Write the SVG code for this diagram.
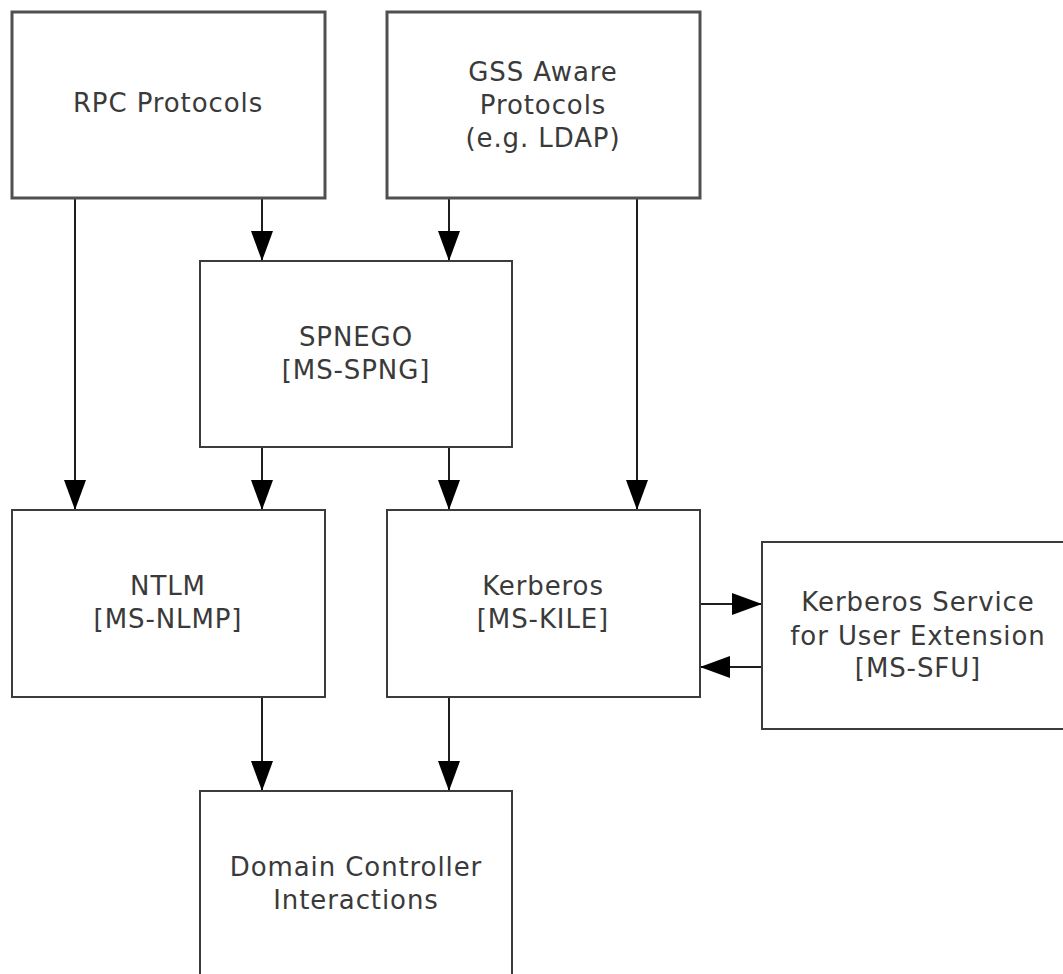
<svg xmlns="http://www.w3.org/2000/svg" width="1063" height="974" viewBox="0 0 1063 974">
<style>
.box{fill:#fff;stroke:#3c3c3c;stroke-width:2}
.top{stroke:#505050;stroke-width:3}
.lbl{font-family:"DejaVu Sans","Verdana",sans-serif;font-size:26px;fill:#3a3a3a;text-anchor:middle;letter-spacing:0.9px}
.conn{stroke:#1e1e1e;stroke-width:2;fill:none}
</style>
<defs>
<marker id="ah" markerUnits="userSpaceOnUse" markerWidth="32" markerHeight="24" refX="30" refY="11" orient="auto">
<path d="M0,0 L30,11 L0,22 z" fill="#000"/>
</marker>
</defs>
<g id="connectors">
<line class="conn" x1="75" y1="198" x2="75" y2="510" marker-end="url(#ah)"/>
<line class="conn" x1="262" y1="198" x2="262" y2="261" marker-end="url(#ah)"/>
<line class="conn" x1="449" y1="198" x2="449" y2="261" marker-end="url(#ah)"/>
<line class="conn" x1="637" y1="198" x2="637" y2="510" marker-end="url(#ah)"/>
<line class="conn" x1="262" y1="447" x2="262" y2="510" marker-end="url(#ah)"/>
<line class="conn" x1="449" y1="447" x2="449" y2="510" marker-end="url(#ah)"/>
<line class="conn" x1="262" y1="697" x2="262" y2="791" marker-end="url(#ah)"/>
<line class="conn" x1="449" y1="697" x2="449" y2="791" marker-end="url(#ah)"/>
<line class="conn" x1="700" y1="604" x2="762" y2="604" marker-end="url(#ah)"/>
<line class="conn" x1="762" y1="667" x2="700" y2="667" marker-end="url(#ah)"/>
</g>
<g id="rpc">
<rect class="box top" x="12" y="12" width="313" height="186"/>
<text class="lbl" x="168" y="112">RPC Protocols</text>
</g>
<g id="gss">
<rect class="box top" x="387" y="12" width="313" height="186"/>
<text class="lbl" x="543" y="81">GSS Aware</text>
<text class="lbl" x="543" y="114">Protocols</text>
<text class="lbl" x="543" y="147">(e.g. LDAP)</text>
</g>
<g id="spnego">
<rect class="box" x="200" y="261" width="312" height="186"/>
<text class="lbl" x="356" y="346">SPNEGO</text>
<text class="lbl" x="356" y="379">[MS-SPNG]</text>
</g>
<g id="ntlm">
<rect class="box" x="12" y="510" width="313" height="187"/>
<text class="lbl" x="168" y="595">NTLM</text>
<text class="lbl" x="168" y="628">[MS-NLMP]</text>
</g>
<g id="kerberos">
<rect class="box" x="387" y="510" width="313" height="187"/>
<text class="lbl" x="543" y="595">Kerberos</text>
<text class="lbl" x="543" y="628">[MS-KILE]</text>
</g>
<g id="sfu">
<rect class="box" x="762" y="542" width="313" height="187"/>
<text class="lbl" x="918" y="611">Kerberos Service</text>
<text class="lbl" x="918" y="645">for User Extension</text>
<text class="lbl" x="918" y="677">[MS-SFU]</text>
</g>
<g id="dc">
<rect class="box" x="200" y="791" width="312" height="187"/>
<text class="lbl" x="356" y="876">Domain Controller</text>
<text class="lbl" x="356" y="909">Interactions</text>
</g>
</svg>
